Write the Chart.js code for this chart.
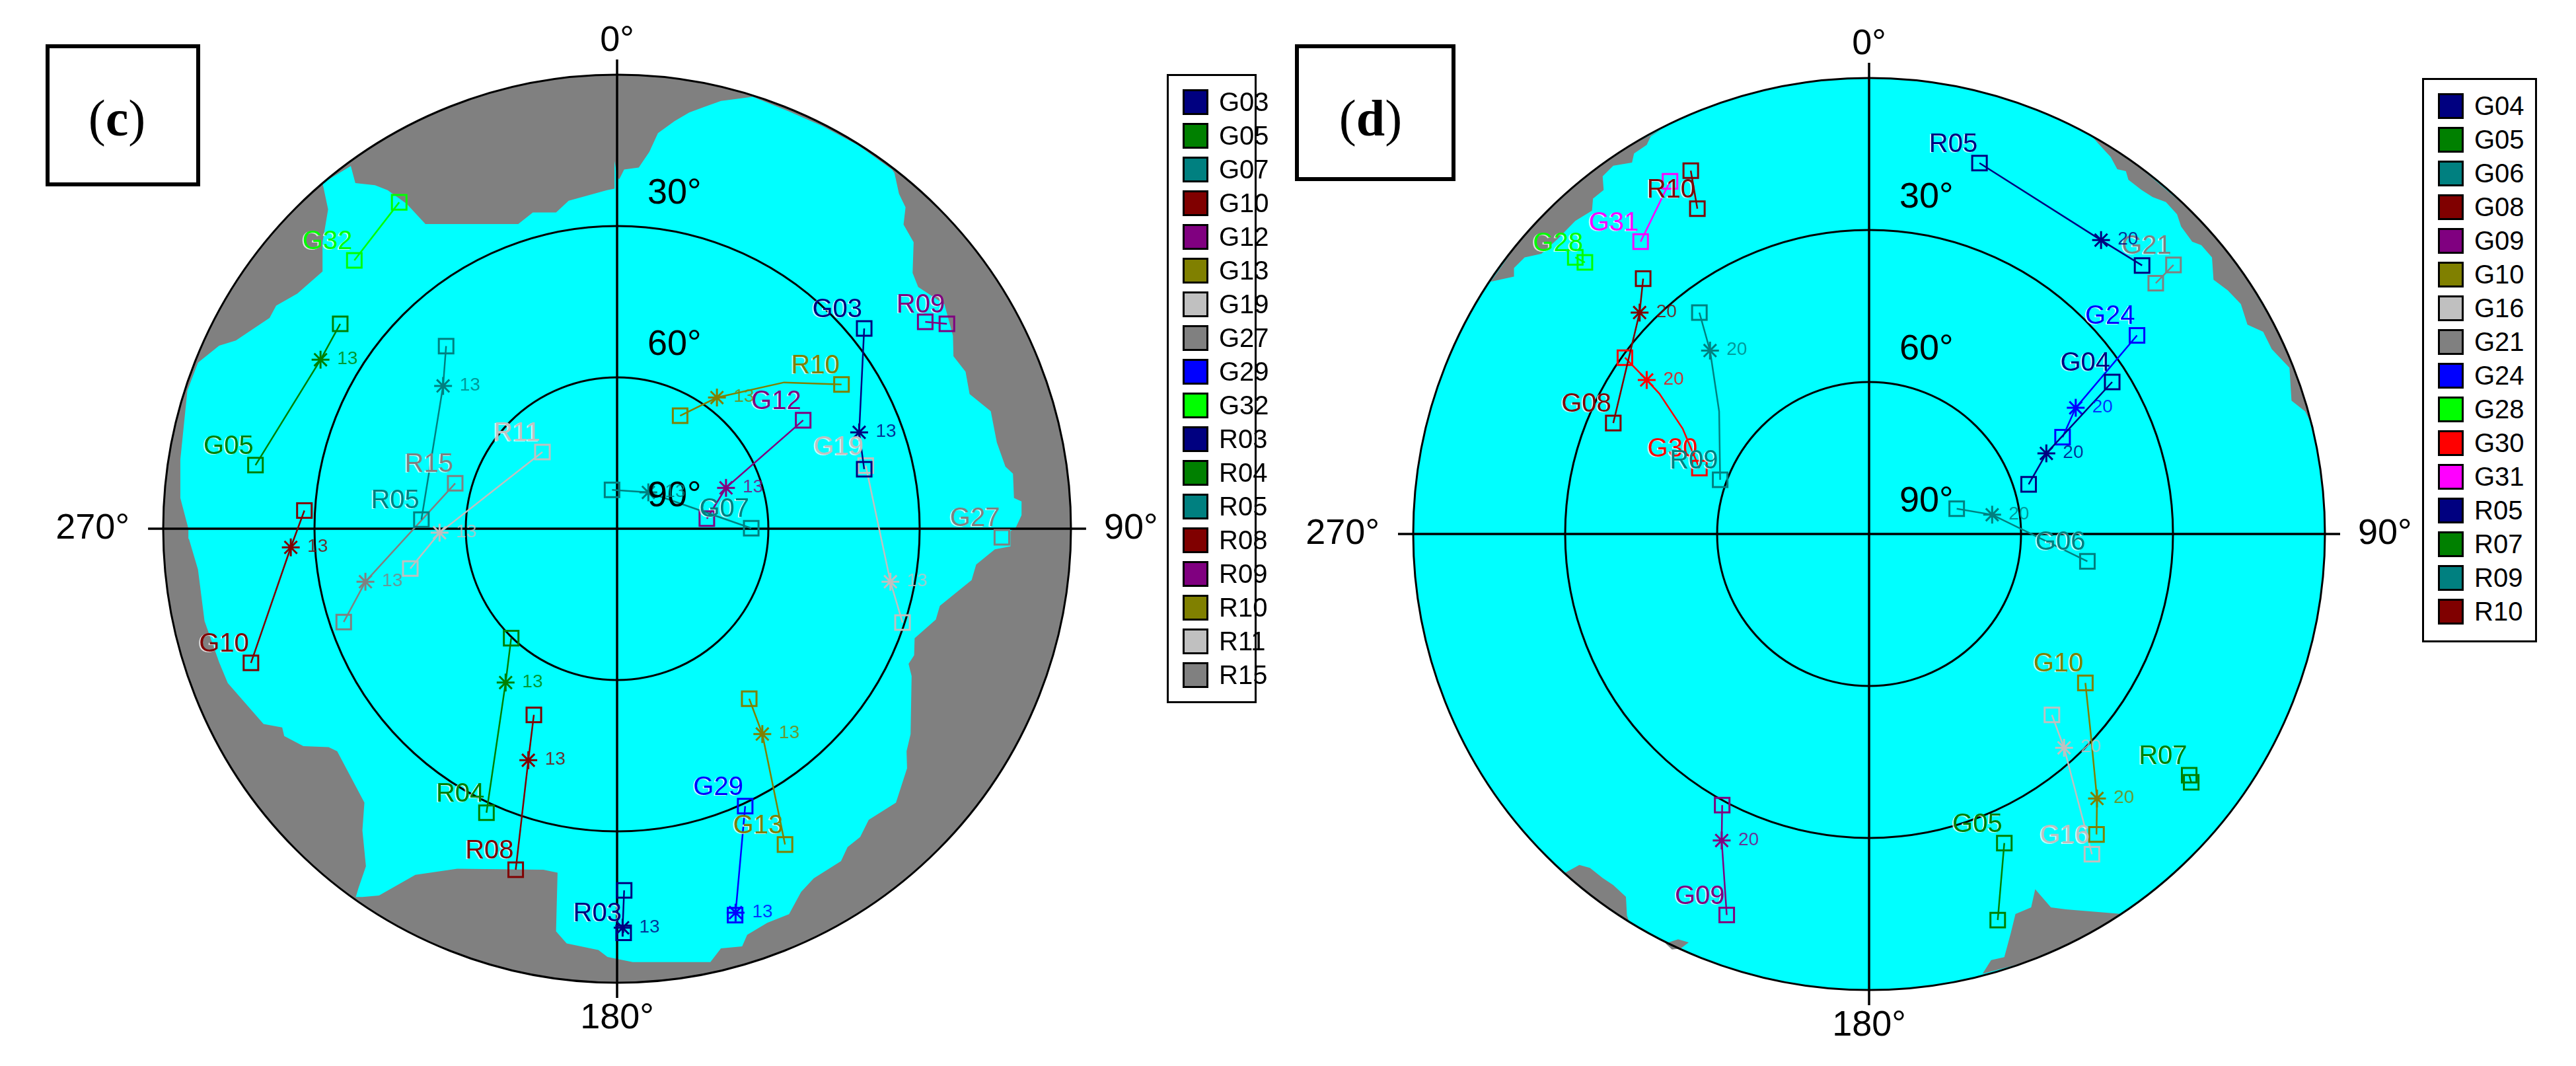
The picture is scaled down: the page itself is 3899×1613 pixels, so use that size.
<!DOCTYPE html>
<html>
<head>
<meta charset="utf-8">
<title>Sky plots (c) and (d)</title>
<script src="https://cdn.jsdelivr.net/npm/chart.js@4"></script>
<style>
  html, body { margin: 0; width: 3899px; height: 1613px; overflow: hidden; background: #fff; }
  canvas { position: absolute; top: 0; }
  .tag { position: absolute; box-sizing: border-box; border: 6px solid #000; background: #fff;
         font: 78px "Liberation Serif", serif; text-align: center; }
  .tag b { font-weight: bold; }
  .legend { position: absolute; box-sizing: border-box; border: 3px solid #000; background: #fff; }
  .legend div { position: absolute; left: 21px; width: 39px; height: 39px; box-sizing: border-box; border: 3px solid #000; }
  .legend span { position: absolute; left: 76px; font: 40px/39px "Liberation Sans", Arial, sans-serif; color: #000; }
</style>
</head>
<body>
<canvas id="chartC" width="1950" height="1613" style="left:0"></canvas>
<canvas id="chartD" width="1949" height="1613" style="left:1950px"></canvas>
<div class="tag" style="left:69px;top:67px;width:234px;height:215px;line-height:212px;padding-right:18px">(<b>c</b>)</div>
<div class="tag" style="left:1960px;top:67px;width:243px;height:207px;line-height:212px;padding-right:14px">(<b>d</b>)</div>
<div class="legend" id="legendC" style="left:1766px;top:112px;width:136px;height:952px"></div>
<div class="legend" id="legendD" style="left:3666px;top:118px;width:174px;height:854px"></div>

<script>
// tracks are east/north offsets on the sky plot, in degrees from the zenith
// first point = labelled end, last point = other end

// === panel (c) ===
const satsC = ['G03', 'G05', 'G07', 'G10', 'G12', 'G13', 'G19', 'G27', 'G29', 'G32', 'R03', 'R04', 'R05', 'R08', 'R09', 'R10', 'R11', 'R15'];
const tracksC = [
  [[49, 39.7], [48, 19.1], [49, 11.8]],
  [[-71.7, 12.6], [-58.8, 33.5], [-54.9, 40.6]],
  [[26.6, 0.1], [6.2, 7.2], [-1, 7.7]],
  [[-72.6, -26.6], [-64.7, -3.7], [-62, 3.6]],
  [[36.9, 21.5], [21.6, 8.1], [17.8, 2]],
  [[33.3, -62.6], [28.8, -40.7], [26.2, -33.7]],
  [[49.3, 12.5], [54.2, -10.5], [56.6, -18.6]],
  [[76.3, -1.7]],
  [[25.4, -55], [23.5, -76.1], [23.4, -76.6]],
  [[-52.1, 53.2], [-43.2, 64.7]],
  [[1.3, -80.1], [1.1, -79.1], [1.4, -71.7]],
  [[-25.9, -56.3], [-22.1, -30.5], [-21, -21.7]],
  [[-38.8, 1.8], [-34.5, 28.3], [-33.9, 36.2]],
  [[-20.1, -67.6], [-17.6, -45.9], [-16.5, -36.9]],
  [[65.4, 40.6], [61.1, 41]],
  [[44.5, 28.6], [33.1, 29], [19.8, 26], [12.5, 22.4]],
  [[-14.8, 15.2], [-35.2, -0.8], [-41, -7.9]],
  [[-32.1, 9], [-49.9, -10.5], [-54.2, -18.5]]
];
// index of the asterisk point in each track, -1 if there is none
const starsC = [1, 1, 1, 1, 1, 1, 1, -1, 1, -1, 1, 1, 1, 1, -1, 2, 1, 1];
const maskC = '13';
const coverC = [[
  [0, 70], [0.4, 69.2], [1.4, 71.2], [4.3, 71.6], [6.4, 74.7], [8.1, 78.4], [11.4, 80.8], [14.3, 82.5], [17.3, 83.6], [20.6, 84.8],
  [26.9, 85.6], [33.9, 82.8], [40.7, 79.8], [47.8, 76], [54.5, 71.2], [55, 70.5], [55.9, 66.4], [57.2, 63.7], [56.8, 60.3], [58.8, 56.8],
  [58.6, 50.7], [59.7, 47.9], [64.9, 44.5], [66.6, 38.3], [66.7, 34.2], [69.1, 31.1], [69.9, 26.7], [74.1, 23.3], [75.3, 17.1], [77, 12.3],
  [78.5, 10.9], [78.7, 6.1], [80.2, 5.4], [80.2, 2.7], [79.1, 0.3], [78, -0.5], [78, -3.5], [74.9, -4.1], [71.2, -7.1], [70.3, -10.2], [64, -15.3],
  [63.2, -18], [59, -21.7], [58.9, -25.1], [57.8, -26.8], [58.4, -29.2], [58.2, -40.7], [57.4, -44.1], [57.5, -47.5], [55.3, -54.3], [49.9, -57.7],
  [48.2, -61.1], [45.7, -63.1], [44.4, -65.9], [39, -69.3], [36.5, -72], [34.1, -76.4], [29.8, -78.1], [25.8, -80.5], [24.8, -82.8], [20.6, -83.2],
  [18.5, -85.9], [3.1, -85.9], [-1.9, -84.9], [-3.7, -83.5], [-10, -82.2], [-12.1, -79.8], [-11.8, -68.2], [-14.6, -67.6], [-31.7, -67.4], [-40, -68.6],
  [-47.2, -72.7], [-50.5, -73], [-51.8, -73], [-51.3, -71.3], [-49.8, -66.9], [-50.5, -59.8], [-50.1, -54.3], [-55.5, -44.1], [-57.2, -43.3], [-62.2, -43.1],
  [-66, -41.1], [-66.4, -39.4], [-70.1, -38.7], [-77.2, -30.6], [-78.9, -26.5], [-81.8, -18.3], [-83.1, -8.1], [-84.9, -2], [-85, 0], [-86.6, 6.1],
  [-86.6, 13.7], [-85.2, 27.4], [-83.1, 32.9], [-78.9, 36.3], [-75.6, 37.3], [-68.9, 41.8], [-67.6, 44.2], [-63.4, 46.6], [-58.4, 51], [-58.4, 56.8],
  [-57.3, 63.3], [-58.4, 68.5], [-52.8, 71.9], [-51.9, 68.5], [-48, 68.1], [-45.5, 67.1], [-41.7, 64.4], [-38, 60.4], [-19.6, 60.4], [-16.7, 62.7],
  [-12.1, 62.7], [-9.6, 65], [-2, 67.1], [-0.5, 67.4], [-0.5, 72.9]
]];

// === panel (d) ===
const satsD = ['G04', 'G05', 'G06', 'G08', 'G09', 'G10', 'G16', 'G21', 'G24', 'G28', 'G30', 'G31', 'R05', 'R07', 'R09', 'R10'];
const tracksD = [
  [[48, 30], [35, 15.9], [31.5, 9.8]],
  [[26.7, -61], [25.4, -76.2]],
  [[43.1, -5.4], [24.3, 3.8], [17.3, 5]],
  [[-50.5, 21.9], [-45.3, 43.7], [-44.6, 50.4]],
  [[-28.1, -75.2], [-29.1, -60.5], [-29, -53.5]],
  [[42.7, -29.4], [43.7, -38.8], [45, -52.2], [44.9, -59.3]],
  [[44, -63.2], [38.5, -42.2], [36.1, -35.7]],
  [[60.1, 53.1], [56.6, 49.5]],
  [[52.9, 39.2], [40.8, 24.9], [38.2, 19.1]],
  [[-56.1, 53.6], [-58, 54.6]],
  [[-33.5, 13], [-36.8, 20.8], [-41.4, 27.7], [-43.9, 30.4], [-48.2, 34.8]],
  [[-45.1, 57.7], [-39.3, 69.6]],
  [[21.8, 73.2], [45.8, 58], [53.9, 53]],
  [[63.2, -47.6], [63.6, -49]],
  [[-29.4, 10.7], [-29.6, 24.2], [-31.4, 36.2], [-33.5, 43.7]],
  [[-33.9, 64.2], [-35.2, 71.7]]
];
const starsD = [1, -1, 1, 1, 1, 2, 1, -1, 1, -1, 3, -1, 1, -1, 2, -1];
const maskD = '20';
const coverD = [
  [[-41, 79.8], [-43.1, 78.5], [-43.9, 76.8], [-46.4, 75.1], [-46.8, 73.3], [-50.5, 72.7], [-52.6, 70.6], [-52.4, 67.9], [-54.5, 66.2], [-54.7, 63.8],
   [-58, 61.8], [-61.4, 58.3], [-64.7, 55.3], [-68, 54.6], [-70.1, 52.5], [-70.1, 50.8], [-74.7, 49.8], [-69.9, 56.6], [-64.7, 62.5], [-59, 67.9], [-52.9, 72.8], [-46.4, 77.1]],
  [[43.7, 78.8], [45.5, 76.8], [47.7, 74.4], [49, 72], [50.7, 71.6], [51.2, 69.9], [53.8, 67.9], [56, 66.5], [58.6, 65.5], [60.8, 63.1], [61.6, 60.7], [63.8, 57.7],
   [65.6, 57], [67.7, 54.6], [68, 50.2], [70.8, 48.1], [73.4, 45.4], [74.7, 41.3], [77.8, 39.9], [79.5, 36.5], [83, 32.8], [83.4, 26.3], [86.1, 24.2], [87.8, 20.8],
   [84.6, 30.8], [80.2, 40.9], [74.6, 50.3], [68.9, 57.9], [62.5, 64.7], [52.9, 72.8]],
  [[-60.1, -66.9], [-57.2, -65.3], [-55.1, -65.9], [-52.6, -67.9], [-50.5, -69.3], [-48, -71.6], [-47.8, -75.3], [-47.4, -76.4], [-53.7, -72.2]],
  [[-40.2, -80.8], [-37.7, -80], [-35.6, -80.6], [-37.2, -81.8], [-38.9, -82]],
  [[22.4, -86.8], [24.1, -84.1], [26.7, -83.5], [28, -78.7], [28.9, -75], [32, -73.7], [32.8, -70.1], [35.9, -73.7], [38.9, -74.1], [50, -75], [40.9, -80.2], [30.8, -84.6]]
];

// === styles ===
const colorsC = ['#000080', '#008000', '#008080', '#800000', '#800080', '#808000', '#C0C0C0', '#808080', '#0000FF', '#00FF00', '#000080', '#008000', '#008080', '#800000', '#800080', '#808000', '#C0C0C0', '#808080'];
const colorsD = ['#000080', '#008000', '#008080', '#800000', '#800080', '#808000', '#C0C0C0', '#808080', '#0000FF', '#00FF00', '#FF0000', '#FF00FF', '#000080', '#008000', '#008080', '#800000'];
const CYAN = '#00FFFF';
const GREY = '#808080';

// axis ticks
const ringElevations = [0, 30, 60];
const elevationTicks = [30, 60, 90];
const azimuthTicks = ['0°', '90°', '180°', '270°'];

const panelC = { cx: 934, cy: 800, radius: 687, width: 1950, mid: { disc: GREY, patch: CYAN } };
const panelD = { cx: 879, cy: 808, radius: 690, width: 1949, mid: { disc: CYAN, patch: GREY } };

const SKY = 90;
const NAME_FONT = '40px "Liberation Sans", Arial, sans-serif';
const MASK_FONT = '28px "Liberation Sans", Arial, sans-serif';
const AXIS_FONT = '54px "Liberation Sans", Arial, sans-serif';

// ==============================
// Sky grid plugin (disc, rings, axes, text)
// ==============================
const skyPlugin = (panel, sats, tracks, stars, colors, mask) => ({
  id: 'sky',
  beforeDatasetsDraw(chart) {
    const { ctx, scales: { x, y } } = chart;
    ctx.save();
    ctx.fillStyle = panel.mid.disc;
    ctx.beginPath();
    ctx.arc(x.getPixelForValue(0), y.getPixelForValue(0), x.getPixelForValue(SKY) - x.getPixelForValue(0), 0, Math.PI * 2);
    ctx.fill();
    ctx.restore();
  },
  // tracks draw last-to-first, so the grid goes in just before the last track
  beforeDatasetDraw(chart, args) {
    if (args.index !== tracks.length - 1) return;
    const { ctx, scales: { x, y } } = chart;
    const x0 = x.getPixelForValue(0);
    const y0 = y.getPixelForValue(0);
    const unit = x.getPixelForValue(1) - x0;
    const reach = (SKY + 3) * unit;
    ctx.save();
    ctx.strokeStyle = '#000';
    ctx.lineWidth = 3;
    ringElevations.forEach(el => {
      ctx.beginPath();
      ctx.arc(x0, y0, (SKY - el) * unit, 0, Math.PI * 2);
      ctx.stroke();
    });
    ctx.lineWidth = 3.5;
    ctx.beginPath();
    ctx.moveTo(x0 - reach, y0);
    ctx.lineTo(x0 + reach, y0);
    ctx.moveTo(x0, y0 - reach);
    ctx.lineTo(x0, y0 + reach);
    ctx.stroke();
    ctx.restore();
  },
  afterDatasetsDraw(chart) {
    const { ctx, scales: { x, y } } = chart;
    const x0 = x.getPixelForValue(0);
    const y0 = y.getPixelForValue(0);
    const unit = x.getPixelForValue(1) - x0;
    const rim = SKY * unit;
    ctx.save();
    ctx.textBaseline = 'middle';

    // axis labels
    ctx.fillStyle = '#000';
    ctx.font = AXIS_FONT;
    ctx.textAlign = 'center';
    ctx.fillText(azimuthTicks[0], x0, y0 - rim - 51);
    ctx.fillText(azimuthTicks[2], x0, y0 + rim + 54);
    ctx.textAlign = 'left';
    ctx.fillText(azimuthTicks[1], x0 + rim + 50, y0);
    elevationTicks.forEach(el => ctx.fillText(`${el}°`, x0 + 46, y0 - (SKY - el) * unit - 49));
    ctx.textAlign = 'right';
    ctx.fillText(azimuthTicks[3], x0 - rim - 51, y0);

    // satellite names and mask numbers
    tracks.forEach((track, i) => {
      const points = chart.getDatasetMeta(i).data;
      ctx.textAlign = 'right';
      ctx.font = NAME_FONT;
      ctx.fillStyle = 'rgba(255,255,255,0.75)';
      ctx.fillText(sats[i], points[0].x - 5, points[0].y - 27);
      ctx.fillStyle = colors[i];
      ctx.fillText(sats[i], points[0].x - 3, points[0].y - 28);
      if (stars[i] >= 0) {
        const star = points[stars[i]];
        ctx.textAlign = 'left';
        ctx.font = MASK_FONT;
        ctx.fillStyle = colors[i];
        ctx.globalAlpha = 0.8;
        ctx.fillText(mask, star.x + 25, star.y - 1);
        ctx.globalAlpha = 1;
      }
    });
    ctx.restore();
  }
});

// ==============================
// Chart
// ==============================
const toPoints = pts => pts.map(([x, y]) => ({ x, y }));

const renderPanel = (canvasId, panel, sats, tracks, stars, colors, cover, mask) => {
  const perPx = SKY / panel.radius;
  const trackSets = tracks.map((track, i) => ({
    label: sats[i],
    data: toPoints(track),
    showLine: true,
    fill: false,
    borderColor: colors[i],
    borderWidth: 2.5,
    pointBorderColor: colors[i],
    pointBackgroundColor: 'transparent',
    pointBorderWidth: 3,
    pointStyle: ctx => (ctx.dataIndex === stars[i] ? 'star' : 'rect'),
    pointRadius: ctx => {
      if (ctx.dataIndex === stars[i]) return 13.5;
      return ctx.dataIndex === 0 || ctx.dataIndex === track.length - 1 ? 15.6 : 0;
    }
  }));
  const coverSets = cover.map(outline => ({
    label: 'cover',
    data: toPoints(outline),
    showLine: true,
    fill: 'shape',
    backgroundColor: panel.mid.patch,
    borderWidth: 0,
    borderColor: panel.mid.patch,
    pointRadius: 0
  }));

  new Chart(document.getElementById(canvasId), {
    type: 'scatter',
    data: { datasets: [...trackSets, ...coverSets] },
    plugins: [skyPlugin(panel, sats, tracks, stars, colors, mask)],
    options: {
      responsive: false,
      animation: false,
      events: [],
      layout: { padding: 0, autoPadding: false },
      plugins: { legend: { display: false }, tooltip: { enabled: false } },
      scales: {
        x: { display: false, min: -panel.cx * perPx, max: (panel.width - panel.cx) * perPx },
        y: { display: false, min: (panel.cy - 1613) * perPx, max: panel.cy * perPx }
      }
    }
  });
};

// ==============================
// Legend
// ==============================
const renderLegend = (boxId, sats, colors) => {
  const box = document.getElementById(boxId);
  sats.forEach((name, i) => {
    const top = 20 + i * 51;
    const swatch = document.createElement('div');
    swatch.style.top = `${top}px`;
    swatch.style.background = colors[i];
    const text = document.createElement('span');
    text.style.top = `${top}px`;
    text.textContent = name;
    box.appendChild(swatch);
    box.appendChild(text);
  });
};

renderPanel('chartC', panelC, satsC, tracksC, starsC, colorsC, coverC, maskC);
renderPanel('chartD', panelD, satsD, tracksD, starsD, colorsD, coverD, maskD);
renderLegend('legendC', satsC, colorsC);
renderLegend('legendD', satsD, colorsD);
</script>
</body>
</html>
